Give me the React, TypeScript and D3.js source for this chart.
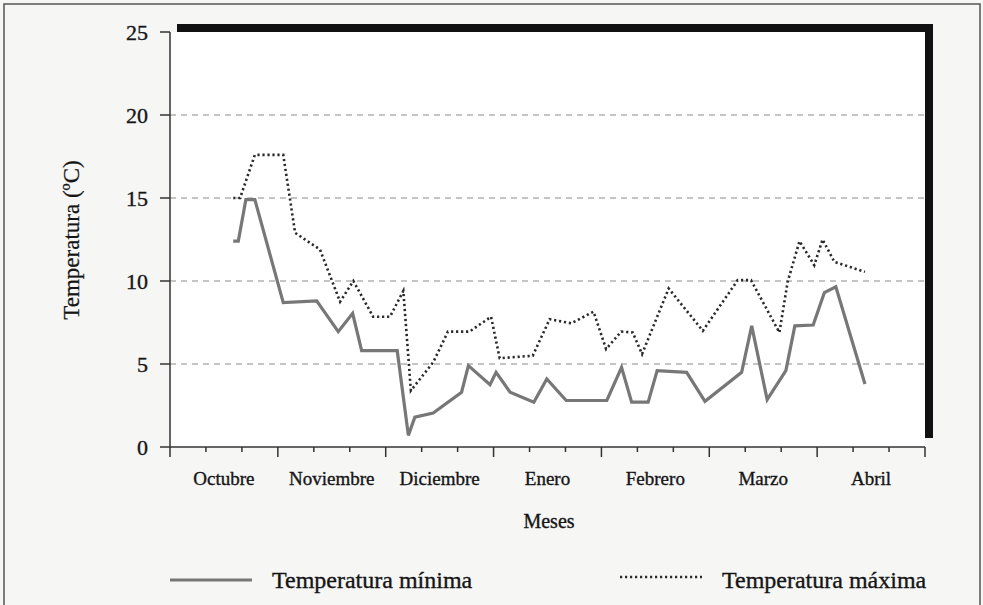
import React from "react";
import * as d3 from "d3";

// days counted from 1 October (30 days per month, 3 decades each)
const monthLabels = ["Octubre", "Noviembre", "Diciembre", "Enero", "Febrero", "Marzo", "Abril"];
const yTicks = [0, 5, 10, 15, 20, 25];

const minDays = [17.6, 19.0, 21.1, 23.6, 31.5, 40.8, 46.8, 50.8, 53.3, 63.2, 66.3, 68.1, 73.2, 81.1, 83.0, 89.0, 90.7, 94.6, 101.2, 104.8, 110.2, 121.5, 125.6, 128.4, 133.0, 135.5, 143.7, 148.8, 159.0, 161.8, 166.1, 171.3, 173.8, 178.9, 182.0, 185.2, 193.3];
const minTemps = [12.4, 12.4, 14.9, 14.9, 8.7, 8.8, 6.95, 8.05, 5.8, 5.8, 0.7, 1.8, 2.05, 3.3, 4.9, 3.75, 4.5, 3.3, 2.7, 4.1, 2.8, 2.8, 4.8, 2.7, 2.7, 4.6, 4.5, 2.75, 4.5, 7.3, 2.85, 4.6, 7.3, 7.35, 9.3, 9.65, 3.8];

const maxDays = [17.6, 19.5, 23.6, 31.5, 34.8, 41.7, 47.3, 51.0, 56.5, 61.2, 64.9, 67.0, 73.2, 77.3, 83.3, 89.3, 91.7, 100.9, 105.6, 111.6, 117.8, 121.3, 125.5, 128.7, 131.3, 138.7, 148.2, 157.9, 161.6, 169.5, 171.8, 175.1, 179.2, 181.5, 184.8, 193.3];
const maxTemps = [15.0, 15.0, 17.6, 17.6, 12.9, 11.9, 8.75, 10.0, 7.85, 7.85, 9.4, 3.4, 5.1, 6.95, 6.95, 7.85, 5.35, 5.5, 7.7, 7.45, 8.15, 5.9, 6.95, 6.9, 5.6, 9.55, 7.0, 10.05, 10.05, 6.9, 9.95, 12.4, 10.95, 12.5, 11.15, 10.55];

const W = 983;
const H = 605;
const FONT = "'Liberation Serif', 'Times New Roman', serif";
const INK = "#151515";

const App: React.FC = () => {
  const x = d3.scaleLinear().domain([0, 210]).range([170, 925]);
  const y = d3.scaleLinear().domain([0, 25]).range([447, 32]);

  const line = d3
    .line<[number, number]>()
    .x((d) => x(d[0]))
    .y((d) => y(d[1]));

  const minPts: [number, number][] = minDays.map((d, i) => [d, minTemps[i]]);
  const maxPts: [number, number][] = maxDays.map((d, i) => [d, maxTemps[i]]);

  const xTicks = d3.range(0, 211, 10);
  const [x0, x1] = x.range();
  const [y0, y1] = y.range();

  const txt = { fill: INK, stroke: INK, strokeWidth: 0.35 };

  return (
    <svg width={W} height={H} style={{ position: "absolute", left: 0, top: 0 }} fontFamily={FONT}>
      <rect x={0} y={0} width={W} height={H} fill="#f6f6f5" />
      <rect x={4} y={4} width={976} height={610} fill="none" stroke="#555" strokeWidth={1.5} />

      {/* shadow frame of the plot box */}
      <rect x={x0 + 7} y={y1 - 8} width={x1 - x0 + 1} height={y0 - y1 - 1} fill="#111" />
      <rect x={x0} y={y1} width={x1 - x0} height={y0 - y1} fill="#fff" />

      {/* grid */}
      {yTicks.filter((t) => t > 0 && t < 25).map((t) => (
        <line key={t} x1={x0} x2={x1} y1={y(t)} y2={y(t)} stroke="#8a8a8a" strokeWidth={1} strokeDasharray="6,5" />
      ))}

      {/* y axis */}
      <line x1={x0} x2={x0} y1={y1} y2={y0} stroke="#333" strokeWidth={1.5} />
      {yTicks.map((t) => (
        <g key={t}>
          <line x1={x0 - 10} x2={x0} y1={y(t)} y2={y(t)} stroke="#333" strokeWidth={1.5} />
          <text x={x0 - 22} y={y(t)} dy="0.35em" textAnchor="end" fontSize={22} {...txt}>
            {t}
          </text>
        </g>
      ))}

      {/* x axis */}
      <line x1={x0} x2={x1} y1={y0} y2={y0} stroke="#333" strokeWidth={1.5} />
      {xTicks.map((t) => (
        <line key={t} x1={x(t)} x2={x(t)} y1={y0} y2={y0 + (t % 30 === 0 ? 10 : 5)} stroke="#333" strokeWidth={1.5} />
      ))}
      {monthLabels.map((m, i) => (
        <text key={m} x={x(i * 30 + 15)} y={485} textAnchor="middle" fontSize={19} {...txt}>
          {m}
        </text>
      ))}

      <text x={549} y={528} textAnchor="middle" fontSize={20} {...txt}>
        Meses
      </text>
      <text transform="translate(79,240) rotate(-90)" textAnchor="middle" fontSize={23} {...txt} strokeWidth={0.25}>
        Temperatura (ºC)
      </text>

      {/* series */}
      <path d={line(minPts) || ""} fill="none" stroke="#777" strokeWidth={3.2} strokeLinejoin="miter" />
      <path d={line(maxPts) || ""} fill="none" stroke="#2a2a2a" strokeWidth={2.6} strokeDasharray="2.2,2.8" />

      {/* legend */}
      <line x1={170} x2={252} y1={580} y2={580} stroke="#777" strokeWidth={3.2} />
      <text x={272} y={588} fontSize={24} {...txt}>
        Temperatura mínima
      </text>
      <line x1={620} x2={702} y1={577} y2={577} stroke="#2a2a2a" strokeWidth={2.6} strokeDasharray="2.2,2.8" />
      <text x={722} y={588} fontSize={24} {...txt}>
        Temperatura máxima
      </text>
    </svg>
  );
};

export default App;
